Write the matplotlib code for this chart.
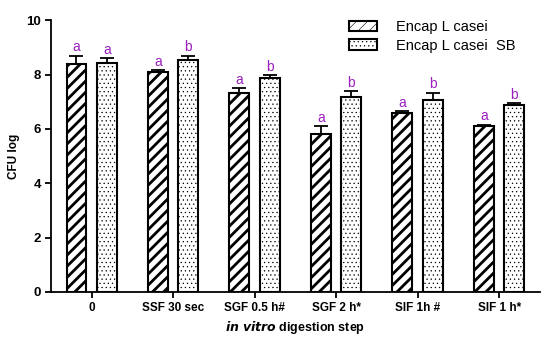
import matplotlib
matplotlib.use("Agg")
import matplotlib.pyplot as plt
import numpy as np

categories = ["0", "SSF 30 sec", "SGF 0.5 h#", "SGF 2 h*", "SIF 1h #", "SIF 1 h*"]
encap = [8.40, 8.11, 7.33, 5.81, 6.59, 6.11]
encap_err = [0.30, 0.05, 0.16, 0.30, 0.08, 0.05]
encap_sb = [8.43, 8.53, 7.86, 7.16, 7.08, 6.88]
encap_sb_err = [0.18, 0.17, 0.12, 0.24, 0.26, 0.08]
letters_encap = ["a", "a", "a", "a", "a", "a"]
letters_sb = ["a", "b", "b", "b", "b", "b"]
series_names = ["Encap L casei", "Encap L casei  SB"]

plt.rcParams['font.family'] = ['Liberation Sans', 'DejaVu Sans']

fig = plt.figure(figsize=(5.5, 3.41), dpi=100)
ax = fig.add_axes([0.0927, 0.1437, 0.889, 0.797])

x = np.arange(len(categories))
w = 0.245
off = 0.187

plt.rcParams['hatch.linewidth'] = 2.0
b1 = ax.bar(x - off, encap, w, color='white', edgecolor='black', linewidth=1.5,
            hatch='///', label=series_names[0], zorder=2)
plt.rcParams['hatch.linewidth'] = 0.4
b2 = ax.bar(x + off, encap_sb, w, color='white', edgecolor='black', linewidth=1.5,
            hatch='....', label=series_names[1], zorder=2)
for b in b1:
    try:
        b.set_hatch_linewidth(2.0)
    except Exception:
        pass
for b in b2:
    try:
        b.set_hatch_linewidth(0.4)
    except Exception:
        pass

ax.errorbar(x - off, encap, yerr=[np.zeros(len(encap)), encap_err], fmt='none',
            ecolor='black', elinewidth=1.3, capsize=5, capthick=1.3, zorder=3)
ax.errorbar(x + off, encap_sb, yerr=[np.zeros(len(encap_sb)), encap_sb_err], fmt='none',
            ecolor='black', elinewidth=1.3, capsize=5, capthick=1.3, zorder=3)

purple = '#9b1fbf'
for xi, v, e, l in zip(x - off, encap, encap_err, letters_encap):
    ax.text(xi, v + e + 0.04, l, ha='center', va='bottom', color=purple, fontsize=10)
for xi, v, e, l in zip(x + off, encap_sb, encap_sb_err, letters_sb):
    ax.text(xi, v + e + 0.04, l, ha='center', va='bottom', color=purple, fontsize=10)

ax.set_xlim(-0.5, 5.5)
ax.set_ylim(0, 10)
ax.set_yticks([0, 2, 4, 6, 8, 10])
ax.set_xticks(x)
ax.set_xticklabels(categories, fontweight='bold', fontsize=8.5)
for t in ax.get_yticklabels():
    t.set_fontweight('bold')
    t.set_fontsize(9.5)
ax.spines['top'].set_visible(False)
ax.spines['right'].set_visible(False)
ax.spines['left'].set_linewidth(1.3)
ax.spines['bottom'].set_linewidth(1.3)
ax.tick_params(axis='both', width=1.3, length=4, direction='out', pad=3)

ax.set_ylabel("CFU log", fontweight='bold', fontsize=8.5, labelpad=5)
ax.set_xlabel(r"$\mathbfit{in\ vitro}$ digestion step", fontweight='bold', fontsize=9)

leg = ax.legend(loc='upper left', frameon=False,
                fontsize=10.5, handlelength=1.9, handleheight=0.7, handletextpad=1.3,
                labelspacing=0.3, borderpad=0, borderaxespad=0)
leg.set_bbox_to_anchor((0.61, 1.0), transform=ax.transAxes)

fig.savefig("out.png", dpi=100)
